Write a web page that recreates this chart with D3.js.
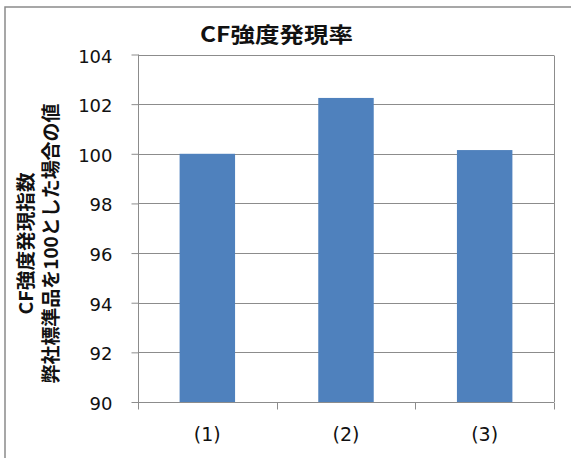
<!DOCTYPE html>
<html>
<head>
<meta charset="utf-8">
<script src="https://cdn.jsdelivr.net/npm/d3@7"></script>
<style>
  html, body { margin: 0; padding: 0; background: #fff; }
  svg { display: block; }
</style>
</head>
<body>
<svg id="chart" width="571" height="458"></svg>
<script>
// Chart data
const categories = ["(1)", "(2)", "(3)"];
const values = [100, 102.25, 100.15];
const yTicks = [90, 92, 94, 96, 98, 100, 102, 104];
const titleText = "CF強度発現率";
const yTitleLines = ["CF強度発現指数", "弊社標準品を100とした場合の値"];

const W = 571, H = 458;
const plot = { left: 138, right: 554, top: 54.5, bottom: 402 };
const svg = d3.select("#chart");
const numFont = "'DejaVu Sans', 'Open Sans', sans-serif";
const jpFont = "'Noto Sans CJK JP', sans-serif";

// Outer chart frame
svg.append("rect")
  .attr("x", 5).attr("y", 7)
  .attr("width", W + 20).attr("height", H + 20)
  .attr("fill", "#fff")
  .attr("stroke", "#8a8a8a").attr("stroke-width", 1.5);

const x = d3.scaleBand()
  .domain(categories)
  .range([plot.left, plot.right])
  .padding(0);

const y = d3.scaleLinear()
  .domain([d3.min(yTicks), d3.max(yTicks)])
  .range([plot.bottom, plot.top]);

// Horizontal gridlines
svg.append("g")
  .selectAll("line")
  .data(yTicks.filter(t => t !== d3.min(yTicks)))
  .join("line")
  .attr("x1", plot.left).attr("x2", plot.right)
  .attr("y1", d => Math.round(y(d)) + 0.5)
  .attr("y2", d => Math.round(y(d)) + 0.5)
  .attr("stroke", "#8c8c8c").attr("stroke-width", 1);

// Plot-area right edge
svg.append("line")
  .attr("x1", plot.right + 0.5).attr("x2", plot.right + 0.5)
  .attr("y1", Math.round(y(d3.max(yTicks))) + 0.5).attr("y2", plot.bottom)
  .attr("stroke", "#8c8c8c").attr("stroke-width", 1);

// Bars
const barFrac = 0.4;
svg.append("g")
  .selectAll("rect")
  .data(categories.map((c, i) => ({ c, v: values[i] })))
  .join("rect")
  .attr("x", d => x(d.c) + x.bandwidth() * (1 - barFrac) / 2)
  .attr("width", x.bandwidth() * barFrac)
  .attr("y", d => y(d.v))
  .attr("height", d => y(d3.min(yTicks)) - y(d.v))
  .attr("fill", "#4f81bd");

// Y axis
const yAxis = svg.append("g")
  .attr("transform", `translate(${plot.left + 0.5},0)`)
  .call(d3.axisLeft(y).tickValues(yTicks).tickSize(7).tickPadding(19).tickFormat(d3.format("d")));
yAxis.select(".domain").attr("stroke", "#8c8c8c").attr("d", `M0,${plot.top}V${plot.bottom}`);
yAxis.selectAll(".tick line").attr("stroke", "#8c8c8c");
yAxis.selectAll(".tick text")
  .attr("font-family", numFont)
  .attr("font-size", 18)
  .attr("fill", "#111")
  .attr("dy", "0.42em");

// X axis with ticks on the category boundaries
const xAxisG = svg.append("g")
  .attr("transform", `translate(0,${plot.bottom + 0.5})`);
xAxisG.append("line")
  .attr("x1", plot.left).attr("x2", plot.right)
  .attr("stroke", "#8c8c8c");
const boundaries = categories.map(c => x(c)).concat([x(categories[categories.length - 1]) + x.bandwidth()]);
xAxisG.selectAll("line.tk")
  .data(boundaries)
  .join("line")
  .attr("class", "tk")
  .attr("x1", d => Math.round(d) + 0.5).attr("x2", d => Math.round(d) + 0.5)
  .attr("y1", 0).attr("y2", 7)
  .attr("stroke", "#8c8c8c");
xAxisG.selectAll("text")
  .data(categories)
  .join("text")
  .attr("x", d => x(d) + x.bandwidth() / 2)
  .attr("y", 38.5)
  .attr("text-anchor", "middle")
  .attr("font-family", numFont)
  .attr("font-size", 19)
  .attr("fill", "#111")
  .text(d => d);

// Title
svg.append("text")
  .attr("x", 276.5).attr("y", 42)
  .attr("text-anchor", "middle")
  .attr("font-family", jpFont)
  .attr("font-weight", "bold")
  .attr("font-size", 21)
  .attr("textLength", 153)
  .attr("lengthAdjust", "spacingAndGlyphs")
  .attr("fill", "#111")
  .text(titleText);

// Y axis title (two rotated lines)
const yTitleX = [33, 58];
const yTitleLen = [142, 280];
yTitleLines.forEach((t, i) => {
  svg.append("text")
    .attr("transform", `translate(${yTitleX[i]},243.5) rotate(-90)`)
    .attr("text-anchor", "middle")
    .attr("font-family", jpFont)
    .attr("font-weight", "bold")
    .attr("font-size", 19)
    .attr("textLength", yTitleLen[i])
    .attr("lengthAdjust", "spacingAndGlyphs")
    .attr("fill", "#111")
    .text(t);
});
</script>
</body>
</html>
